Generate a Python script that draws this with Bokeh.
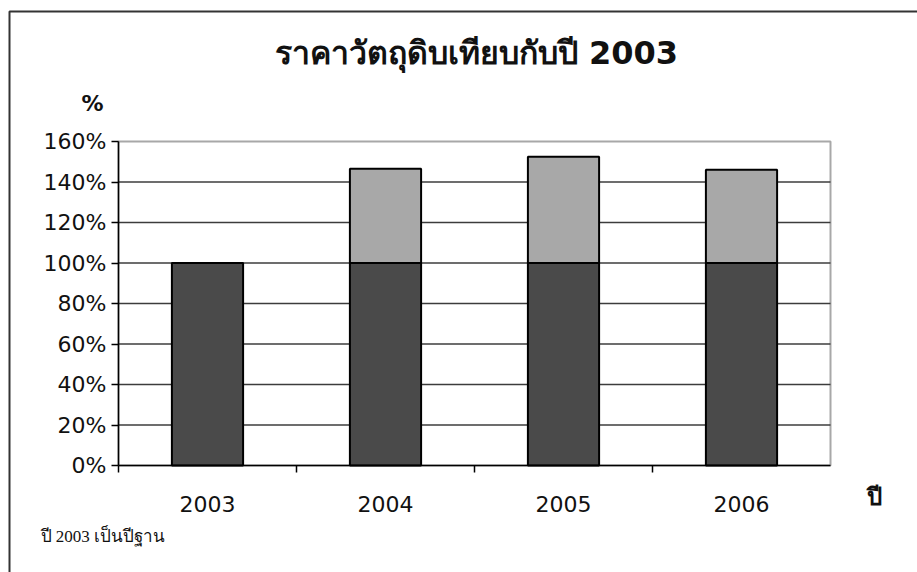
from bokeh.plotting import figure
from bokeh.models import Range1d, FixedTicker, Label, LinearAxis, ColumnDataSource
from bokeh.embed import file_html
from bokeh.resources import INLINE

years = ["2003", "2004", "2005", "2006"]
base = [100, 100, 100, 100]
increase = [0, 46.5, 52.5, 46]
y_ticks = [0, 20, 40, 60, 80, 100, 120, 140, 160]
title_text = "ราคาวัตถุดิบเทียบกับปี 2003"
y_label = "%"
x_label = "ปี"
note_text = "ปี 2003 เป็นปีฐาน"

W, H = 917, 572
# pixel geometry of the chart area inside the canvas
FL, FR, FT, FB = 118, 830, 141, 465
n = len(years)
sx = (FR - FL) / n
ymax = y_ticks[-1]
sy = (FB - FT) / ymax

def dx(px):
    return (px - FL) / sx

def dy(py):
    return (FB - py) / sy

xc = [i + 0.5 for i in range(n)]
totals = [b + d for b, d in zip(base, increase)]
src = ColumnDataSource(dict(x=xc, base=base, top=totals))

p = figure(width=W, height=H, output_backend="svg", toolbar_location=None,
           x_range=Range1d(dx(0), dx(W)), y_range=Range1d(dy(H), dy(0)),
           x_axis_location=None, y_axis_location=None, min_border=0)
p.outline_line_color = None
p.background_fill_color = "white"
p.border_fill_color = "white"
p.xgrid.visible = False
p.ygrid.visible = False

# outer chart border (top and left)
p.line(x=[dx(9), dx(9), dx(W + 5)], y=[dy(H + 5), dy(11), dy(11)],
       line_color="#333333", line_width=2)

# plot area
p.quad(left=0, right=n, bottom=0, top=ymax, fill_color="white",
       line_color="#a8a8a8", line_width=2)

# gridlines
gt = y_ticks[1:-1]
p.segment(x0=[0] * len(gt), x1=[n] * len(gt), y0=gt, y1=gt,
          line_color="#3c3c3c", line_width=1.5)

p.vbar(x="x", bottom=0, top="base", width=0.4, source=src,
       fill_color="#4a4a4a", line_color="black", line_width=2)
p.vbar(x="x", bottom="base", top="top", width=0.4, source=src,
       fill_color="#a8a8a8", line_color="black", line_width=2)

ya = LinearAxis(fixed_location=0, bounds=(0, ymax))
ya.ticker = FixedTicker(ticks=y_ticks, minor_ticks=[])
ya.major_label_overrides = {t: f"{t}%" for t in y_ticks}
ya.major_label_text_font = "DejaVu Sans"
ya.major_label_text_font_size = "22px"
ya.major_label_text_color = "#111111"
ya.axis_line_color = "black"
ya.axis_line_width = 1.5
ya.major_tick_out = 7
ya.major_tick_in = 0
ya.major_tick_line_width = 1.5
ya.major_label_standoff = 5
p.add_layout(ya, "left")

xa = LinearAxis(fixed_location=0, bounds=(0, n))
xa.ticker = FixedTicker(ticks=xc, minor_ticks=list(range(n)))
xa.major_label_overrides = {x: y for x, y in zip(xc, years)}
xa.major_label_text_font = "DejaVu Sans"
xa.major_label_text_font_size = "22px"
xa.major_label_text_color = "#111111"
xa.axis_line_color = "black"
xa.axis_line_width = 1.5
xa.major_tick_line_color = None
xa.major_tick_out = 0
xa.major_tick_in = 0
xa.minor_tick_out = 7
xa.minor_tick_in = 0
xa.minor_tick_line_width = 1.5
xa.minor_tick_line_color = "black"
xa.major_label_standoff = 23
p.add_layout(xa, "below")

p.add_layout(Label(x=dx(476), y=dy(52), text=title_text,
                   text_align="center", text_baseline="middle", text_font="DejaVu Sans",
                   text_font_size="32px", text_font_style="bold", text_color="#111111"))
p.add_layout(Label(x=dx(92), y=dy(103), text=y_label, text_align="center", text_baseline="middle",
                   text_font="DejaVu Sans",
                   text_font_size="22px", text_font_style="bold", text_color="#111111"))
p.add_layout(Label(x=dx(874), y=dy(496), text=x_label, text_align="center", text_baseline="middle",
                   text_font="Liberation Serif", text_font_size="24px", text_font_style="bold",
                   text_color="#111111"))
p.add_layout(Label(x=dx(40), y=dy(536), text=note_text, text_align="left",
                   text_baseline="middle", text_font="Liberation Serif",
                   text_font_size="17px", text_color="#111111"))

open("out.html", "w").write(file_html(p, INLINE))
